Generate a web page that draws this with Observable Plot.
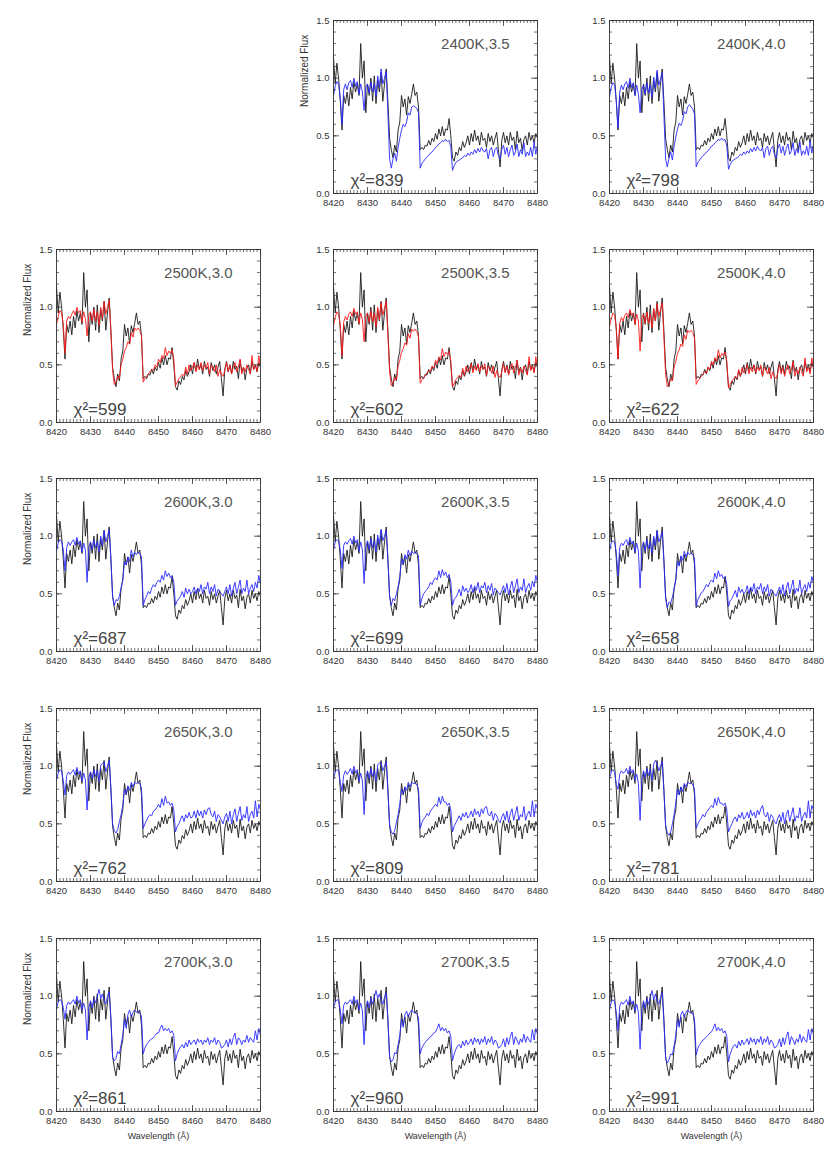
<!DOCTYPE html>
<html><head><meta charset="utf-8">
<script src="https://cdn.jsdelivr.net/npm/d3@7"></script>
<script src="https://cdn.jsdelivr.net/npm/@observablehq/plot@0.6"></script>
<style>
html,body{margin:0;padding:0;background:#fff;}
#chart{position:relative;width:830px;height:1150px;overflow:hidden;}
#chart svg{position:absolute;}
</style></head><body><div id="chart"></div>
<script>
// ---- data ----
const wlStart = 8420, wlStep = 0.5;  // 121 samples, 8420..8480
const xTicks = [8420, 8430, 8440, 8450, 8460, 8470, 8480];
const yTicks = [0, 0.5, 1.0, 1.5];
const xMinorTicks = d3.range(8420, 8481, 1);
const yMinorTicks = [0,0.1,0.2,0.3,0.4,0.5,0.6,0.7,0.8,0.9,1.0,1.1,1.2,1.3,1.4,1.5];

const observed = [
1.18,0.95,1.13,1.00,0.80,0.55,0.85,0.78,0.88,0.76,
0.92,0.82,0.97,0.88,0.95,0.85,1.30,1.00,1.15,0.70,
0.95,0.85,1.00,0.80,1.02,0.78,0.98,0.88,1.05,0.80,
0.95,1.08,0.80,0.48,0.38,0.31,0.42,0.36,0.55,0.62,
0.85,0.75,0.82,0.68,0.84,0.78,0.86,0.95,0.85,0.88,
0.75,0.38,0.40,0.38,0.42,0.41,0.46,0.42,0.48,0.45,
0.52,0.47,0.56,0.50,0.58,0.50,0.56,0.55,0.65,0.50,
0.31,0.28,0.36,0.33,0.40,0.37,0.45,0.40,0.44,0.50,
0.42,0.52,0.45,0.55,0.46,0.50,0.42,0.53,0.46,0.48,
0.40,0.52,0.45,0.50,0.42,0.48,0.53,0.38,0.23,0.46,
0.53,0.44,0.50,0.42,0.53,0.46,0.49,0.38,0.54,0.44,
0.48,0.37,0.47,0.50,0.42,0.53,0.46,0.50,0.44,0.52,
0.48];

const m2400_35 = [
0.85,0.93,0.97,0.95,0.82,0.60,0.90,0.95,0.90,0.96,
0.98,0.92,1.00,0.93,0.97,0.86,0.95,0.88,0.72,0.92,
0.95,0.87,0.97,0.88,0.95,0.84,1.02,0.92,1.08,0.95,
1.00,1.06,0.70,0.30,0.22,0.30,0.35,0.28,0.40,0.48,
0.55,0.60,0.58,0.62,0.70,0.68,0.75,0.76,0.75,0.74,
0.70,0.22,0.26,0.28,0.30,0.32,0.33,0.35,0.36,0.38,
0.40,0.41,0.43,0.44,0.46,0.45,0.47,0.45,0.46,0.40,
0.20,0.24,0.27,0.28,0.29,0.30,0.31,0.33,0.32,0.35,
0.33,0.36,0.34,0.38,0.35,0.39,0.36,0.40,0.37,0.36,
0.39,0.30,0.38,0.40,0.32,0.38,0.40,0.33,0.30,0.38,
0.42,0.34,0.40,0.32,0.38,0.42,0.33,0.36,0.43,0.32,
0.38,0.34,0.44,0.32,0.36,0.33,0.40,0.32,0.45,0.34,
0.42];
const m2400_40 = [
0.84,0.92,0.96,0.94,0.80,0.57,0.88,0.94,0.90,0.95,
0.97,0.91,1.00,0.92,0.96,0.85,0.94,0.86,0.70,0.90,
0.94,0.86,0.96,0.87,0.94,0.83,1.01,0.91,1.07,0.94,
0.99,1.05,0.68,0.30,0.23,0.31,0.36,0.29,0.41,0.49,
0.56,0.61,0.59,0.63,0.71,0.69,0.75,0.77,0.75,0.73,
0.69,0.23,0.27,0.29,0.31,0.33,0.34,0.36,0.37,0.39,
0.41,0.42,0.44,0.45,0.47,0.46,0.48,0.46,0.47,0.41,
0.21,0.25,0.28,0.29,0.30,0.31,0.32,0.34,0.33,0.36,
0.34,0.37,0.35,0.39,0.36,0.40,0.37,0.41,0.38,0.37,
0.40,0.31,0.39,0.41,0.33,0.39,0.41,0.34,0.31,0.39,
0.43,0.35,0.41,0.33,0.39,0.43,0.34,0.37,0.44,0.33,
0.39,0.35,0.45,0.33,0.37,0.34,0.41,0.33,0.46,0.35,
0.43];
const m2500_30 = [
0.85,0.92,0.97,0.95,0.85,0.60,0.88,0.92,0.90,0.94,
0.97,0.93,1.00,0.95,0.97,0.87,0.96,0.90,0.75,0.93,
0.96,0.88,0.98,0.88,0.96,0.84,1.00,0.90,1.05,0.94,
1.00,1.06,0.78,0.45,0.33,0.35,0.40,0.38,0.50,0.55,
0.62,0.65,0.70,0.68,0.78,0.74,0.82,0.80,0.82,0.80,
0.75,0.35,0.38,0.40,0.42,0.44,0.46,0.45,0.50,0.48,
0.55,0.52,0.58,0.55,0.65,0.58,0.62,0.60,0.63,0.55,
0.32,0.35,0.38,0.40,0.42,0.40,0.48,0.42,0.50,0.45,
0.48,0.52,0.44,0.50,0.46,0.52,0.45,0.50,0.47,0.52,
0.42,0.50,0.48,0.44,0.50,0.40,0.46,0.42,0.40,0.45,
0.52,0.44,0.50,0.42,0.48,0.52,0.44,0.48,0.55,0.42,
0.48,0.44,0.50,0.46,0.42,0.58,0.46,0.50,0.44,0.58,
0.48];
const m2500_35 = [
0.84,0.91,0.96,0.94,0.84,0.58,0.87,0.92,0.89,0.94,
0.96,0.92,0.99,0.94,0.96,0.86,0.95,0.89,0.70,0.92,
0.95,0.87,0.97,0.87,0.95,0.83,1.00,0.89,1.04,0.93,
0.99,1.05,0.76,0.44,0.32,0.34,0.39,0.37,0.49,0.54,
0.61,0.64,0.69,0.67,0.77,0.73,0.81,0.79,0.81,0.79,
0.74,0.34,0.37,0.39,0.41,0.43,0.45,0.44,0.49,0.47,
0.54,0.51,0.57,0.54,0.64,0.57,0.61,0.59,0.62,0.54,
0.31,0.34,0.37,0.39,0.41,0.39,0.47,0.41,0.49,0.44,
0.47,0.51,0.43,0.49,0.45,0.51,0.44,0.49,0.46,0.51,
0.41,0.49,0.47,0.43,0.49,0.39,0.45,0.41,0.39,0.44,
0.51,0.43,0.49,0.41,0.47,0.51,0.43,0.47,0.54,0.41,
0.47,0.43,0.49,0.45,0.41,0.57,0.45,0.49,0.43,0.57,
0.47];
const m2500_40 = [
0.83,0.90,0.95,0.93,0.82,0.55,0.86,0.91,0.88,0.93,
0.95,0.91,0.98,0.93,0.95,0.85,0.94,0.88,0.62,0.91,
0.94,0.86,0.96,0.86,0.94,0.82,0.99,0.88,1.03,0.92,
0.98,1.04,0.74,0.42,0.31,0.33,0.38,0.36,0.48,0.53,
0.60,0.63,0.68,0.66,0.76,0.72,0.80,0.78,0.80,0.78,
0.73,0.33,0.36,0.38,0.40,0.42,0.44,0.43,0.48,0.46,
0.53,0.50,0.56,0.53,0.63,0.56,0.60,0.58,0.61,0.53,
0.30,0.33,0.36,0.38,0.40,0.38,0.46,0.40,0.48,0.43,
0.46,0.50,0.42,0.48,0.44,0.50,0.43,0.48,0.45,0.50,
0.40,0.48,0.46,0.42,0.48,0.38,0.44,0.40,0.38,0.43,
0.50,0.42,0.48,0.40,0.46,0.50,0.42,0.46,0.53,0.40,
0.46,0.42,0.48,0.44,0.40,0.56,0.44,0.48,0.42,0.56,
0.46];
const m2600_30 = [
0.87,0.94,0.97,0.96,0.88,0.70,0.90,0.95,0.92,0.95,
0.97,0.92,0.99,0.93,0.96,0.86,0.94,0.88,0.60,0.90,
0.95,0.88,0.97,0.90,0.95,0.86,1.00,0.92,1.05,0.95,
1.00,1.06,0.80,0.48,0.40,0.45,0.44,0.48,0.55,0.62,
0.78,0.75,0.82,0.78,0.88,0.82,0.86,0.84,0.86,0.85,
0.82,0.40,0.45,0.48,0.52,0.50,0.55,0.58,0.56,0.60,
0.62,0.60,0.66,0.62,0.70,0.65,0.68,0.64,0.66,0.60,
0.40,0.44,0.46,0.48,0.52,0.47,0.55,0.50,0.54,0.50,
0.52,0.56,0.50,0.55,0.52,0.58,0.50,0.56,0.54,0.60,
0.50,0.56,0.52,0.58,0.48,0.54,0.52,0.50,0.48,0.52,
0.56,0.50,0.58,0.48,0.55,0.60,0.50,0.56,0.62,0.50,
0.55,0.52,0.62,0.50,0.55,0.58,0.52,0.60,0.55,0.66,
0.58];
const m2600_35 = [
0.88,0.95,0.97,0.96,0.88,0.72,0.92,0.95,0.93,0.96,
0.98,0.93,1.00,0.94,0.97,0.87,0.95,0.88,0.59,0.90,
0.96,0.88,0.98,0.90,0.96,0.86,1.01,0.93,1.06,0.96,
1.00,1.05,0.80,0.48,0.40,0.46,0.44,0.50,0.56,0.65,
0.80,0.76,0.84,0.80,0.88,0.83,0.87,0.85,0.86,0.85,
0.83,0.40,0.46,0.50,0.52,0.54,0.56,0.60,0.58,0.62,
0.64,0.62,0.70,0.64,0.71,0.66,0.69,0.64,0.67,0.60,
0.40,0.45,0.47,0.50,0.54,0.48,0.57,0.52,0.55,0.51,
0.53,0.58,0.51,0.57,0.53,0.60,0.51,0.57,0.55,0.60,
0.51,0.57,0.53,0.59,0.49,0.55,0.53,0.51,0.49,0.53,
0.57,0.51,0.59,0.49,0.56,0.61,0.51,0.57,0.63,0.51,
0.56,0.53,0.63,0.51,0.56,0.59,0.53,0.61,0.56,0.66,
0.60];
const m2600_40 = [
0.87,0.94,0.96,0.95,0.86,0.66,0.90,0.94,0.92,0.95,
0.97,0.92,0.99,0.93,0.96,0.86,0.94,0.87,0.55,0.89,
0.95,0.87,0.97,0.89,0.95,0.85,1.00,0.92,1.05,0.95,
0.99,1.04,0.78,0.46,0.38,0.43,0.42,0.47,0.54,0.63,
0.78,0.74,0.83,0.79,0.87,0.82,0.86,0.84,0.85,0.84,
0.81,0.39,0.45,0.48,0.51,0.52,0.55,0.58,0.56,0.60,
0.62,0.60,0.68,0.63,0.70,0.65,0.67,0.63,0.65,0.58,
0.39,0.44,0.46,0.49,0.53,0.47,0.56,0.51,0.54,0.50,
0.52,0.57,0.50,0.56,0.52,0.59,0.50,0.56,0.54,0.59,
0.50,0.56,0.52,0.58,0.48,0.54,0.52,0.50,0.48,0.52,
0.56,0.50,0.58,0.48,0.55,0.60,0.50,0.56,0.62,0.50,
0.55,0.52,0.62,0.50,0.55,0.58,0.52,0.60,0.55,0.65,
0.59];
const m2650_30 = [
0.88,0.94,0.97,0.96,0.87,0.75,0.92,0.95,0.93,0.95,
0.97,0.92,0.99,0.93,0.96,0.87,0.94,0.88,0.62,0.90,
0.95,0.89,0.97,0.91,0.96,0.87,1.01,1.02,1.04,0.95,
1.00,1.05,0.80,0.50,0.44,0.42,0.45,0.52,0.58,0.66,
0.80,0.76,0.83,0.79,0.86,0.82,0.86,0.85,0.86,0.85,
0.81,0.46,0.50,0.53,0.56,0.58,0.57,0.61,0.62,0.64,
0.67,0.64,0.72,0.66,0.74,0.68,0.69,0.66,0.68,0.62,
0.43,0.48,0.50,0.54,0.57,0.52,0.58,0.55,0.60,0.55,
0.56,0.61,0.55,0.62,0.57,0.61,0.55,0.62,0.58,0.63,
0.64,0.58,0.56,0.61,0.52,0.58,0.56,0.53,0.50,0.56,
0.59,0.52,0.61,0.50,0.58,0.63,0.52,0.59,0.65,0.53,
0.58,0.55,0.65,0.52,0.58,0.61,0.55,0.70,0.56,0.67,
0.62];
const m2650_35 = [
0.88,0.95,0.97,0.96,0.86,0.78,0.92,0.96,0.93,0.95,
0.98,0.93,1.00,0.94,0.97,0.87,0.94,0.87,0.58,0.89,
0.96,0.89,0.98,0.91,0.96,0.87,1.01,1.03,1.03,0.96,
1.00,1.04,0.79,0.49,0.43,0.41,0.44,0.51,0.58,0.67,
0.80,0.76,0.82,0.79,0.86,0.82,0.86,0.85,0.85,0.84,
0.80,0.46,0.51,0.54,0.56,0.59,0.57,0.61,0.63,0.65,
0.67,0.65,0.73,0.67,0.74,0.69,0.69,0.66,0.68,0.62,
0.43,0.48,0.51,0.54,0.57,0.53,0.59,0.56,0.60,0.55,
0.57,0.61,0.56,0.63,0.58,0.61,0.56,0.63,0.59,0.64,
0.65,0.58,0.57,0.61,0.53,0.59,0.57,0.53,0.51,0.56,
0.59,0.53,0.61,0.51,0.59,0.63,0.53,0.59,0.65,0.53,
0.58,0.56,0.65,0.53,0.58,0.61,0.56,0.70,0.56,0.67,
0.63];
const m2650_40 = [
0.89,0.95,0.97,0.95,0.84,0.80,0.93,0.96,0.94,0.95,
0.98,0.93,1.00,0.94,0.97,0.88,0.93,0.85,0.53,0.88,
0.96,0.90,0.98,0.92,0.97,0.88,1.02,1.05,1.02,0.96,
1.00,1.04,0.78,0.49,0.42,0.40,0.43,0.50,0.58,0.68,
0.80,0.75,0.82,0.78,0.85,0.82,0.86,0.85,0.85,0.84,
0.80,0.46,0.50,0.53,0.55,0.58,0.56,0.60,0.62,0.64,
0.66,0.64,0.72,0.66,0.73,0.68,0.68,0.66,0.68,0.62,
0.43,0.47,0.50,0.54,0.56,0.52,0.58,0.55,0.60,0.54,
0.56,0.60,0.55,0.62,0.57,0.60,0.55,0.62,0.58,0.63,
0.66,0.58,0.56,0.60,0.52,0.58,0.56,0.52,0.50,0.55,
0.58,0.52,0.60,0.50,0.58,0.62,0.52,0.58,0.64,0.52,
0.57,0.55,0.64,0.52,0.57,0.60,0.55,0.70,0.55,0.66,
0.62];
const m2700_30 = [
0.89,0.95,0.97,0.96,0.90,0.80,0.92,0.95,0.93,0.95,
0.97,0.93,1.00,0.94,0.97,0.88,0.94,0.88,0.62,0.90,
0.96,0.90,0.98,0.94,1.00,1.06,0.98,1.02,0.96,0.93,
1.00,1.04,0.80,0.47,0.44,0.46,0.52,0.50,0.58,0.66,
0.80,0.72,0.84,0.88,0.82,0.86,0.88,0.86,0.87,0.86,
0.82,0.50,0.55,0.58,0.60,0.62,0.63,0.64,0.66,0.68,
0.68,0.72,0.75,0.70,0.72,0.70,0.72,0.68,0.70,0.66,
0.44,0.50,0.54,0.56,0.58,0.55,0.60,0.56,0.62,0.58,
0.60,0.62,0.58,0.63,0.60,0.62,0.58,0.62,0.60,0.64,
0.58,0.62,0.60,0.64,0.58,0.62,0.60,0.55,0.56,0.58,
0.62,0.56,0.63,0.58,0.64,0.68,0.58,0.64,0.62,0.58,
0.62,0.60,0.66,0.60,0.64,0.62,0.60,0.70,0.62,0.72,
0.66];
const m2700_35 = [
0.89,0.95,0.97,0.96,0.88,0.76,0.92,0.95,0.93,0.95,
0.97,0.93,1.00,0.94,0.97,0.88,0.94,0.87,0.58,0.89,
0.96,0.90,0.98,0.93,0.99,1.05,0.98,1.02,0.96,0.93,
0.99,1.03,0.79,0.47,0.43,0.45,0.51,0.50,0.58,0.66,
0.80,0.73,0.84,0.87,0.82,0.86,0.88,0.86,0.86,0.85,
0.81,0.50,0.55,0.58,0.60,0.62,0.63,0.65,0.66,0.68,
0.69,0.72,0.76,0.70,0.73,0.70,0.72,0.68,0.70,0.65,
0.44,0.50,0.54,0.57,0.58,0.55,0.61,0.57,0.62,0.58,
0.60,0.63,0.58,0.64,0.60,0.63,0.58,0.63,0.60,0.65,
0.58,0.63,0.60,0.65,0.58,0.62,0.60,0.55,0.56,0.58,
0.63,0.56,0.64,0.58,0.65,0.69,0.58,0.65,0.62,0.58,
0.63,0.60,0.67,0.60,0.65,0.62,0.60,0.71,0.62,0.72,
0.67];
const m2700_40 = [
0.88,0.95,0.97,0.95,0.86,0.70,0.91,0.95,0.93,0.95,
0.97,0.92,1.00,0.93,0.96,0.87,0.93,0.86,0.54,0.88,
0.96,0.89,0.98,0.93,0.99,1.05,0.97,1.02,0.96,0.93,
0.99,1.03,0.78,0.46,0.42,0.45,0.50,0.49,0.57,0.66,
0.80,0.73,0.84,0.87,0.82,0.86,0.88,0.86,0.86,0.85,
0.80,0.49,0.55,0.58,0.60,0.62,0.63,0.65,0.66,0.68,
0.69,0.72,0.76,0.70,0.73,0.70,0.72,0.68,0.70,0.65,
0.43,0.50,0.54,0.57,0.58,0.55,0.61,0.57,0.62,0.58,
0.60,0.63,0.58,0.64,0.60,0.63,0.58,0.63,0.60,0.65,
0.58,0.63,0.60,0.65,0.58,0.62,0.60,0.55,0.56,0.58,
0.63,0.56,0.64,0.58,0.65,0.69,0.58,0.65,0.62,0.58,
0.63,0.60,0.67,0.60,0.65,0.62,0.60,0.71,0.62,0.72,
0.67];

// panel grid (row, col), labels and chi-square values
const panelTeff  = ["2400K","2400K","2500K","2500K","2500K","2600K","2600K","2600K","2650K","2650K","2650K","2700K","2700K","2700K"];
const panelLogg  = ["3.5","4.0","3.0","3.5","4.0","3.0","3.5","4.0","3.0","3.5","4.0","3.0","3.5","4.0"];
const panelChi2  = [839, 798, 599, 602, 622, 687, 699, 658, 762, 809, 781, 861, 960, 991];
const panelRow   = [0,0,1,1,1,2,2,2,3,3,3,4,4,4];
const panelCol   = [1,2,0,1,2,0,1,2,0,1,2,0,1,2];
const panelModel = [m2400_35,m2400_40,m2500_30,m2500_35,m2500_40,m2600_30,m2600_35,m2600_40,m2650_30,m2650_35,m2650_40,m2700_30,m2700_35,m2700_40];
const panelColor = ["blue","blue","red","red","red","blue","blue","blue","blue","blue","blue","blue","blue","blue"];
const colorMap = {blue: "#2a2aff", red: "#ff1a1a"};

// ---- layout ----
const frameLeft = [56, 333, 609];
const frameTop = [20, 249, 478, 708, 938];
const FW = 204, FH = 173;
const ML = 50, MR = 12, MT = 10, MB = 40;
const ink = "#333";
const font = "'Liberation Sans', Arial, Helvetica, sans-serif";

const toSeries = arr => arr.map((f, i) => ({x: wlStart + i * wlStep, y: f}));
const obsData = toSeries(observed);
const chart = document.getElementById("chart");

panelTeff.forEach((teff, k) => {
  const r = panelRow[k], c = panelCol[k];
  const showYLabel = (c === 0) || (r === 0 && c === 1);
  const showXLabel = (r === 4);
  const marks = [
    Plot.line(obsData, {x: "x", y: "y", stroke: "#1a1a1a", strokeWidth: 0.9, clip: true}),
    Plot.line(toSeries(panelModel[k]), {x: "x", y: "y", stroke: colorMap[panelColor[k]], strokeWidth: 0.9, clip: true}),
    // inward ticks on all four sides
    Plot.ruleX(xMinorTicks, {x: d => d, insetTop: FH - 3, stroke: ink, strokeWidth: 0.7}),
    Plot.ruleX(xMinorTicks, {x: d => d, insetBottom: FH - 3, stroke: ink, strokeWidth: 0.7}),
    Plot.ruleX(xTicks, {x: d => d, insetTop: FH - 6, stroke: ink, strokeWidth: 0.8}),
    Plot.ruleX(xTicks, {x: d => d, insetBottom: FH - 6, stroke: ink, strokeWidth: 0.8}),
    Plot.ruleY(yMinorTicks, {y: d => d, insetRight: FW - 3, stroke: ink, strokeWidth: 0.7}),
    Plot.ruleY(yMinorTicks, {y: d => d, insetLeft: FW - 3, stroke: ink, strokeWidth: 0.7}),
    Plot.ruleY(yTicks, {y: d => d, insetRight: FW - 6, stroke: ink, strokeWidth: 0.8}),
    Plot.ruleY(yTicks, {y: d => d, insetLeft: FW - 6, stroke: ink, strokeWidth: 0.8}),
    Plot.frame({stroke: ink, strokeWidth: 0.9}),
    Plot.axisX(xTicks, {tickSize: 0, tickPadding: 6, tickFormat: d => String(d), label: null, fill: ink, fontSize: 9.5}),
    Plot.axisY(yTicks, {tickSize: 0, tickPadding: 4, tickFormat: d => d.toFixed(1), label: null, fill: ink, fontSize: 9.5}),
    Plot.text([teff + "," + panelLogg[k]], {text: d => d, frameAnchor: "top-right", dx: -28, dy: 18, textAnchor: "end", lineAnchor: "top", fontSize: 15, fill: "#555"}),
    Plot.text(["χ²=" + panelChi2[k]], {text: d => d, frameAnchor: "bottom-left", dx: 17, dy: -8, textAnchor: "start", lineAnchor: "bottom", fontSize: 17, fill: "#444"})
  ];
  if (showYLabel) marks.push(Plot.text(["Normalized Flux"], {text: d => d, frameAnchor: "left", dx: -29, rotate: -90, fontSize: 10, fill: ink}));
  if (showXLabel) marks.push(Plot.text(["Wavelength (Å)"], {text: d => d, frameAnchor: "bottom", dy: 25, lineAnchor: "middle", fontSize: 9, fill: ink}));

  const svg = Plot.plot({
    width: FW + ML + MR,
    height: FH + MT + MB,
    marginLeft: ML, marginRight: MR, marginTop: MT, marginBottom: MB,
    x: {domain: [8420, 8480], label: null},
    y: {domain: [0, 1.5], label: null},
    style: {fontFamily: font, fontSize: "10px", color: ink, background: "transparent", overflow: "visible"},
    marks
  });
  svg.style.left = (frameLeft[c] - ML) + "px";
  svg.style.top = (frameTop[r] - MT) + "px";
  chart.appendChild(svg);
});
</script></body></html>
